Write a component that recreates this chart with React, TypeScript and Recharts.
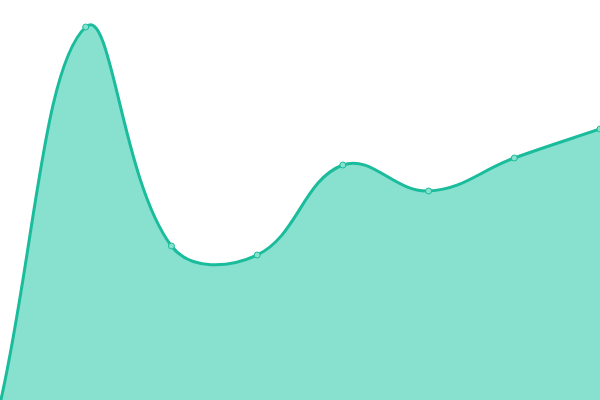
import * as React from 'react';
import { AreaChart, Area, XAxis, YAxis } from 'recharts';

const labels = ['A', 'B', 'C', 'D', 'E', 'F', 'G', 'H'];
const values = [-4, 373, 154, 145, 235, 209, 242, 271];

const data = labels.map((name, i) => ({ name, value: values[i] }));

// spline with tension 0.4, control points weighted by segment length
class TensionSpline {
  _context: any;
  _line: number = NaN;
  _pts: number[][] = [];
  constructor(context: any) {
    this._context = context;
  }
  areaStart() {
    this._line = 0;
  }
  areaEnd() {
    this._line = NaN;
  }
  lineStart() {
    this._pts = [];
  }
  point(x: number, y: number) {
    this._pts.push([+x, +y]);
  }
  lineEnd() {
    const pts = this._pts;
    const ctx = this._context;
    const n = pts.length;
    const t = 0.4;
    if (n > 0) {
      if (this._line) ctx.lineTo(pts[0][0], pts[0][1]);
      else ctx.moveTo(pts[0][0], pts[0][1]);
      const prevCp: number[][] = [];
      const nextCp: number[][] = [];
      for (let i = 0; i < n; i++) {
        const p = pts[i - 1] || pts[i];
        const c = pts[i];
        const nx = pts[i + 1] || pts[i];
        const d01 = Math.hypot(c[0] - p[0], c[1] - p[1]);
        const d12 = Math.hypot(nx[0] - c[0], nx[1] - c[1]);
        let s01 = d01 / (d01 + d12);
        let s12 = d12 / (d01 + d12);
        if (isNaN(s01)) s01 = 0;
        if (isNaN(s12)) s12 = 0;
        const fa = t * s01;
        const fb = t * s12;
        prevCp.push([c[0] - fa * (nx[0] - p[0]), c[1] - fa * (nx[1] - p[1])]);
        nextCp.push([c[0] + fb * (nx[0] - p[0]), c[1] + fb * (nx[1] - p[1])]);
      }
      for (let i = 1; i < n; i++) {
        ctx.bezierCurveTo(
          nextCp[i - 1][0],
          nextCp[i - 1][1],
          prevCp[i][0],
          prevCp[i][1],
          pts[i][0],
          pts[i][1]
        );
      }
    }
    if (this._line || (this._line !== 0 && n === 1)) ctx.closePath();
    this._line = 1 - this._line;
  }
}

const tensionCurve: any = (context: any) => new TensionSpline(context);

export default function App() {
  return (
    <div style={{ position: 'fixed', left: 0, top: 0, width: 600, height: 400, overflow: 'hidden' }}>
      <AreaChart width={600} height={400} data={data} margin={{ top: 0, right: 0, bottom: 0, left: 0 }}>
        <XAxis dataKey="name" hide />
        <YAxis hide domain={[0, 400]} allowDataOverflow />
        <Area
          type={tensionCurve}
          dataKey="value"
          baseValue={0}
          stroke="#1abc9c"
          strokeWidth={3}
          fill="#88e0cf"
          fillOpacity={1}
          dot={{ r: 3, fill: '#88e0cf', stroke: '#1abc9c', strokeWidth: 1, fillOpacity: 1 }}
          activeDot={false}
          isAnimationActive={false}
        />
      </AreaChart>
    </div>
  );
}
